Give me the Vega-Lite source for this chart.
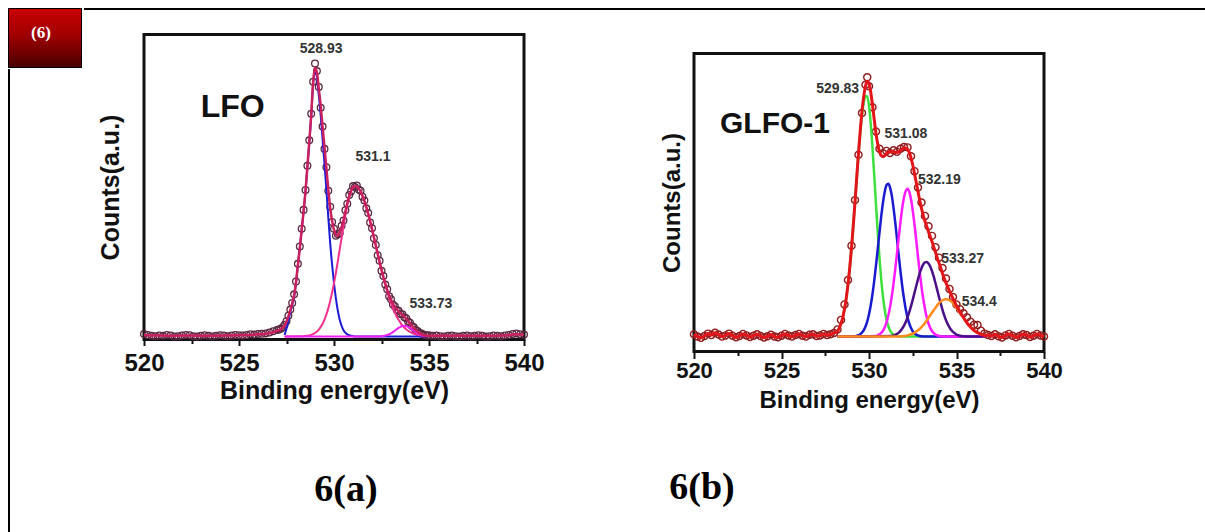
{
"$schema": "https://vega.github.io/schema/vega-lite/v6.json",
"padding": {"left": 8, "top": 8, "right": 0, "bottom": 0},
"background": "white",
"datasets": {
"one": [{"t": "(6)"}],
"aexp": [
{"E":520.0,"c":1.8},{"E":520.2,"c":1.5},{"E":520.4,"c":1.2},{"E":520.6,"c":1.1},{"E":520.8,"c":1.3},{"E":521.0,"c":1.2},{"E":521.2,"c":1.5},{"E":521.4,"c":1.3},{"E":521.6,"c":1.0},{"E":521.8,"c":1.1},
{"E":522.0,"c":1.3},{"E":522.2,"c":1.5},{"E":522.4,"c":1.4},{"E":522.6,"c":1.1},{"E":522.8,"c":1.0},{"E":523.0,"c":1.2},{"E":523.2,"c":1.4},{"E":523.4,"c":1.2},{"E":523.6,"c":1.0},{"E":523.8,"c":1.2},
{"E":524.0,"c":1.4},{"E":524.2,"c":1.3},{"E":524.4,"c":1.1},{"E":524.6,"c":1.3},{"E":524.8,"c":1.5},{"E":525.0,"c":1.4},{"E":525.2,"c":1.3},{"E":525.4,"c":1.5},{"E":525.6,"c":1.7},{"E":525.8,"c":1.6},
{"E":526.0,"c":1.8},{"E":526.2,"c":1.9},{"E":526.4,"c":2.0},{"E":526.6,"c":2.3},{"E":526.8,"c":2.7},{"E":527.0,"c":3.1},
{"E":527.1,"c":3.3},{"E":527.2,"c":3.5},{"E":527.3,"c":4.0},{"E":527.4,"c":4.8},{"E":527.5,"c":6.0},{"E":527.6,"c":7.8},{"E":527.7,"c":9.8},{"E":527.8,"c":12.0},{"E":527.9,"c":14.8},
{"E":528.0,"c":19.0},{"E":528.1,"c":24.8},{"E":528.2,"c":30.5},{"E":528.3,"c":36.3},{"E":528.4,"c":42.5},{"E":528.5,"c":49.0},{"E":528.6,"c":57.0},{"E":528.7,"c":65.3},{"E":528.8,"c":74.0},{"E":528.9,"c":84.5},
{"E":529.0,"c":90.5},{"E":529.1,"c":88.0},{"E":529.2,"c":82.8},{"E":529.3,"c":76.0},{"E":529.4,"c":69.8},{"E":529.5,"c":62.5},{"E":529.6,"c":56.5},{"E":529.7,"c":48.8},{"E":529.8,"c":43.5},{"E":529.9,"c":38.5},
{"E":530.0,"c":36.3},{"E":530.1,"c":34.0},{"E":530.2,"c":34.5},{"E":530.3,"c":34.8},{"E":530.4,"c":37.3},{"E":530.5,"c":39.0},{"E":530.6,"c":42.4},{"E":530.7,"c":44.5},{"E":530.8,"c":47.4},{"E":530.9,"c":48.5},
{"E":531.0,"c":50.3},{"E":531.1,"c":50.0},{"E":531.2,"c":50.5},{"E":531.3,"c":49.2},{"E":531.4,"c":48.8},{"E":531.5,"c":46.8},{"E":531.6,"c":45.6},{"E":531.7,"c":43.0},{"E":531.8,"c":41.5},{"E":531.9,"c":38.4},
{"E":532.0,"c":36.5},{"E":532.1,"c":33.2},{"E":532.2,"c":31.0},{"E":532.3,"c":27.6},{"E":532.4,"c":25.8},{"E":532.5,"c":22.5},{"E":532.6,"c":20.8},{"E":532.7,"c":18.0},{"E":532.8,"c":16.5},{"E":532.9,"c":14.2},
{"E":533.0,"c":13.2},{"E":533.1,"c":11.5},{"E":533.2,"c":10.9},{"E":533.3,"c":9.7},{"E":533.4,"c":9.4},{"E":533.5,"c":8.4},{"E":533.6,"c":8.3},{"E":533.7,"c":7.3},{"E":533.8,"c":7.0},{"E":533.9,"c":5.9},
{"E":534.0,"c":5.5},{"E":534.1,"c":4.4},{"E":534.2,"c":4.0},{"E":534.3,"c":3.1},{"E":534.4,"c":2.8},{"E":534.5,"c":2.2},{"E":534.6,"c":2.0},{"E":534.7,"c":1.6},{"E":534.8,"c":1.5},{"E":534.9,"c":1.3},{"E":535.0,"c":1.4},
{"E":535.2,"c":1.2},{"E":535.4,"c":1.3},{"E":535.6,"c":1.1},{"E":535.8,"c":1.0},{"E":536.0,"c":1.2},{"E":536.2,"c":1.3},{"E":536.4,"c":1.1},{"E":536.6,"c":1.0},{"E":536.8,"c":1.2},{"E":537.0,"c":1.3},
{"E":537.2,"c":1.1},{"E":537.4,"c":1.2},{"E":537.6,"c":1.4},{"E":537.8,"c":1.2},{"E":538.0,"c":1.0},{"E":538.2,"c":1.1},{"E":538.4,"c":1.3},{"E":538.6,"c":1.2},{"E":538.8,"c":1.1},{"E":539.0,"c":1.3},
{"E":539.2,"c":1.5},{"E":539.4,"c":1.8},{"E":539.6,"c":2.0},{"E":539.8,"c":1.7},{"E":540.0,"c":1.6}
],
"afit": [
{"E":520.0,"c":1.5},{"E":520.5,"c":1.3},{"E":521.0,"c":1.3},{"E":521.5,"c":1.2},{"E":522.0,"c":1.3},{"E":522.5,"c":1.3},{"E":523.0,"c":1.2},{"E":523.5,"c":1.2},{"E":524.0,"c":1.3},{"E":524.5,"c":1.3},
{"E":525.0,"c":1.4},{"E":525.5,"c":1.5},{"E":526.0,"c":1.7},{"E":526.4,"c":1.9},{"E":526.8,"c":2.4},{"E":527.0,"c":2.8},{"E":527.2,"c":3.4},{"E":527.3,"c":3.9},
{"E":527.4,"c":4.5},{"E":527.5,"c":5.8},{"E":527.6,"c":7.6},{"E":527.7,"c":9.6},{"E":527.8,"c":11.9},{"E":527.9,"c":14.5},
{"E":528.0,"c":18.8},{"E":528.1,"c":24.5},{"E":528.2,"c":30.0},{"E":528.3,"c":36.0},{"E":528.4,"c":42.1},{"E":528.5,"c":48.7},{"E":528.6,"c":56.7},{"E":528.7,"c":64.9},{"E":528.8,"c":73.5},{"E":528.9,"c":84.3},
{"E":529.0,"c":89.1},{"E":529.1,"c":87.6},{"E":529.2,"c":82.2},{"E":529.3,"c":76.6},{"E":529.4,"c":69.7},{"E":529.5,"c":63.0},{"E":529.6,"c":56.2},{"E":529.7,"c":49.2},{"E":529.8,"c":43.1},{"E":529.9,"c":38.9},
{"E":530.0,"c":36.0},{"E":530.1,"c":34.4},{"E":530.2,"c":34.1},{"E":530.3,"c":35.0},{"E":530.4,"c":36.9},{"E":530.5,"c":39.2},{"E":530.6,"c":42.0},{"E":530.7,"c":44.7},{"E":530.8,"c":47.0},{"E":530.9,"c":48.8},
{"E":531.0,"c":50.0},{"E":531.1,"c":50.3},{"E":531.2,"c":50.1},{"E":531.3,"c":49.5},{"E":531.4,"c":48.5},{"E":531.5,"c":47.1},{"E":531.6,"c":45.4},{"E":531.7,"c":43.4},{"E":531.8,"c":41.2},{"E":531.9,"c":38.8},
{"E":532.0,"c":36.2},{"E":532.1,"c":33.5},{"E":532.2,"c":30.8},{"E":532.3,"c":28.1},{"E":532.4,"c":25.4},{"E":532.5,"c":22.9},{"E":532.6,"c":20.5},{"E":532.7,"c":18.3},{"E":532.8,"c":16.3},{"E":532.9,"c":14.5},
{"E":533.0,"c":13.0},{"E":533.1,"c":11.7},{"E":533.2,"c":10.7},{"E":533.3,"c":9.9},{"E":533.4,"c":9.2},{"E":533.5,"c":8.6},{"E":533.6,"c":8.1},{"E":533.7,"c":7.5},{"E":533.8,"c":6.8},{"E":533.9,"c":6.1},
{"E":534.0,"c":5.3},{"E":534.1,"c":4.5},{"E":534.2,"c":3.8},{"E":534.3,"c":3.1},{"E":534.4,"c":2.6},{"E":534.5,"c":2.1},{"E":534.6,"c":1.8},{"E":534.7,"c":1.5},{"E":534.8,"c":1.3},{"E":534.9,"c":1.2},
{"E":535.5,"c":1.2},{"E":536.0,"c":1.2},{"E":537.0,"c":1.2},{"E":538.0,"c":1.2},{"E":539.0,"c":1.3},{"E":539.5,"c":1.7},{"E":540.0,"c":1.6}
],
"acomp": [
{"pa":"p1","E":527.4,"c":1.5},{"pa":"p1","E":527.5,"c":3.6},{"pa":"p1","E":527.6,"c":6.2},{"pa":"p1","E":527.7,"c":8.9},{"pa":"p1","E":527.8,"c":11.3},{"pa":"p1","E":527.9,"c":14.0},
{"pa":"p1","E":528.0,"c":18.5},{"pa":"p1","E":528.1,"c":24.5},{"pa":"p1","E":528.2,"c":30.0},{"pa":"p1","E":528.3,"c":36.0},{"pa":"p1","E":528.4,"c":42.0},{"pa":"p1","E":528.5,"c":48.5},{"pa":"p1","E":528.6,"c":56.5},{"pa":"p1","E":528.7,"c":64.5},{"pa":"p1","E":528.8,"c":73.0},{"pa":"p1","E":528.9,"c":83.5},
{"pa":"p1","E":529.0,"c":88.0},{"pa":"p1","E":529.1,"c":86.0},{"pa":"p1","E":529.2,"c":80.0},{"pa":"p1","E":529.3,"c":73.5},{"pa":"p1","E":529.4,"c":65.5},{"pa":"p1","E":529.5,"c":57.5},{"pa":"p1","E":529.6,"c":49.0},{"pa":"p1","E":529.7,"c":40.0},{"pa":"p1","E":529.8,"c":31.5},{"pa":"p1","E":529.9,"c":24.5},
{"pa":"p1","E":530.0,"c":18.5},{"pa":"p1","E":530.1,"c":13.5},{"pa":"p1","E":530.2,"c":9.5},{"pa":"p1","E":530.3,"c":6.5},{"pa":"p1","E":530.4,"c":4.5},{"pa":"p1","E":530.5,"c":3.0},{"pa":"p1","E":530.6,"c":2.2},{"pa":"p1","E":530.7,"c":1.7},{"pa":"p1","E":530.8,"c":1.4},{"pa":"p1","E":530.9,"c":1.2},
{"pa":"p1","E":531.0,"c":1.1},{"pa":"p1","E":531.2,"c":1.0},{"pa":"p1","E":534.9,"c":1.0},
{"pa":"p2","E":527.4,"c":1.0},{"pa":"p2","E":528.4,"c":1.05},{"pa":"p2","E":528.6,"c":1.23},{"pa":"p2","E":528.8,"c":1.53},{"pa":"p2","E":529.0,"c":2.12},{"pa":"p2","E":529.2,"c":3.24},{"pa":"p2","E":529.4,"c":5.16},{"pa":"p2","E":529.5,"c":6.52},{"pa":"p2","E":529.6,"c":8.18},{"pa":"p2","E":529.7,"c":10.2},
{"pa":"p2","E":529.8,"c":12.6},{"pa":"p2","E":529.9,"c":15.4},{"pa":"p2","E":530.0,"c":18.5},{"pa":"p2","E":530.1,"c":21.9},{"pa":"p2","E":530.2,"c":25.6},{"pa":"p2","E":530.3,"c":29.5},{"pa":"p2","E":530.4,"c":33.4},{"pa":"p2","E":530.5,"c":37.2},{"pa":"p2","E":530.6,"c":40.8},{"pa":"p2","E":530.7,"c":44.0},
{"pa":"p2","E":530.8,"c":46.6},{"pa":"p2","E":530.9,"c":48.6},{"pa":"p2","E":531.0,"c":49.9},{"pa":"p2","E":531.1,"c":50.3},{"pa":"p2","E":531.2,"c":50.1},{"pa":"p2","E":531.3,"c":49.5},{"pa":"p2","E":531.4,"c":48.5},{"pa":"p2","E":531.5,"c":47.1},{"pa":"p2","E":531.6,"c":45.4},{"pa":"p2","E":531.7,"c":43.4},
{"pa":"p2","E":531.8,"c":41.2},{"pa":"p2","E":531.9,"c":38.8},{"pa":"p2","E":532.0,"c":36.2},{"pa":"p2","E":532.1,"c":33.5},{"pa":"p2","E":532.2,"c":30.8},{"pa":"p2","E":532.3,"c":28.1},{"pa":"p2","E":532.4,"c":25.4},{"pa":"p2","E":532.5,"c":22.8},{"pa":"p2","E":532.6,"c":20.3},{"pa":"p2","E":532.7,"c":18.0},
{"pa":"p2","E":532.8,"c":15.8},{"pa":"p2","E":532.9,"c":13.8},{"pa":"p2","E":533.0,"c":12.0},{"pa":"p2","E":533.1,"c":10.3},{"pa":"p2","E":533.2,"c":8.85},{"pa":"p2","E":533.3,"c":7.56},{"pa":"p2","E":533.4,"c":6.44},{"pa":"p2","E":533.5,"c":5.47},{"pa":"p2","E":533.6,"c":4.65},{"pa":"p2","E":533.7,"c":3.95},
{"pa":"p2","E":533.8,"c":3.37},{"pa":"p2","E":533.9,"c":2.88},{"pa":"p2","E":534.0,"c":2.48},{"pa":"p2","E":534.2,"c":1.9},{"pa":"p2","E":534.4,"c":1.53},{"pa":"p2","E":534.6,"c":1.3},{"pa":"p2","E":534.8,"c":1.16},{"pa":"p2","E":534.9,"c":1.12},
{"pa":"p3","E":527.4,"c":1.0},{"pa":"p3","E":532.4,"c":1.0},{"pa":"p3","E":532.5,"c":1.08},{"pa":"p3","E":532.6,"c":1.17},{"pa":"p3","E":532.7,"c":1.3},{"pa":"p3","E":532.8,"c":1.47},{"pa":"p3","E":532.9,"c":1.72},{"pa":"p3","E":533.0,"c":2.04},{"pa":"p3","E":533.1,"c":2.44},{"pa":"p3","E":533.2,"c":2.89},
{"pa":"p3","E":533.3,"c":3.36},{"pa":"p3","E":533.4,"c":3.8},{"pa":"p3","E":533.5,"c":4.17},{"pa":"p3","E":533.6,"c":4.41},{"pa":"p3","E":533.7,"c":4.5},{"pa":"p3","E":533.8,"c":4.41},{"pa":"p3","E":533.9,"c":4.17},{"pa":"p3","E":534.0,"c":3.8},{"pa":"p3","E":534.1,"c":3.36},{"pa":"p3","E":534.2,"c":2.89},
{"pa":"p3","E":534.3,"c":2.44},{"pa":"p3","E":534.4,"c":2.04},{"pa":"p3","E":534.5,"c":1.72},{"pa":"p3","E":534.6,"c":1.47},{"pa":"p3","E":534.7,"c":1.3},{"pa":"p3","E":534.8,"c":1.17},{"pa":"p3","E":534.9,"c":1.1}
],
"alab": [{"E":529.32,"c":95.1,"t":"528.93"},{"E":532.05,"c":60.0,"t":"531.1"},{"E":535.1,"c":11.8,"t":"533.73"}],
"aname": [{"E":524.67,"c":76.2,"t":"LFO"}],
"bexp": [
{"E":520.0,"c":5.8},{"E":520.2,"c":5.0},{"E":520.4,"c":4.6},{"E":520.6,"c":5.2},{"E":520.8,"c":6.0},{"E":521.0,"c":5.5},{"E":521.2,"c":6.3},{"E":521.4,"c":5.7},{"E":521.6,"c":5.0},{"E":521.8,"c":5.4},
{"E":522.0,"c":6.0},{"E":522.2,"c":5.3},{"E":522.4,"c":4.8},{"E":522.6,"c":5.2},{"E":522.8,"c":5.9},{"E":523.0,"c":5.4},{"E":523.2,"c":4.9},{"E":523.4,"c":5.3},{"E":523.6,"c":5.8},{"E":523.8,"c":5.2},
{"E":524.0,"c":4.7},{"E":524.2,"c":5.1},{"E":524.4,"c":5.6},{"E":524.6,"c":5.0},{"E":524.8,"c":4.8},{"E":525.0,"c":5.3},{"E":525.2,"c":5.9},{"E":525.4,"c":5.4},{"E":525.6,"c":5.0},{"E":525.8,"c":5.5},
{"E":526.0,"c":5.9},{"E":526.2,"c":5.3},{"E":526.4,"c":5.0},{"E":526.6,"c":5.6},{"E":526.8,"c":5.8},{"E":527.0,"c":5.2},{"E":527.2,"c":5.4},{"E":527.4,"c":5.9},{"E":527.6,"c":5.5},{"E":527.8,"c":5.8},
{"E":528.0,"c":6.2},{"E":528.2,"c":7.4},{"E":528.4,"c":10.6},{"E":528.6,"c":15.8},{"E":528.8,"c":24.0},{"E":529.0,"c":35.5},{"E":529.2,"c":50.8},{"E":529.4,"c":66.0},{"E":529.6,"c":80.0},{"E":529.8,"c":89.5},
{"E":529.9,"c":92.0},{"E":530.0,"c":89.0},{"E":530.2,"c":82.0},{"E":530.4,"c":73.8},{"E":530.6,"c":68.0},{"E":530.8,"c":66.5},{"E":531.0,"c":67.3},{"E":531.2,"c":66.6},{"E":531.4,"c":67.5},{"E":531.6,"c":67.0},
{"E":531.8,"c":68.0},{"E":532.0,"c":68.6},{"E":532.2,"c":68.5},{"E":532.4,"c":65.5},{"E":532.6,"c":60.5},{"E":532.8,"c":55.0},{"E":533.0,"c":50.0},{"E":533.2,"c":45.5},{"E":533.4,"c":42.0},{"E":533.6,"c":38.8},
{"E":533.8,"c":35.0},{"E":534.0,"c":31.5},{"E":534.2,"c":28.0},{"E":534.4,"c":24.5},{"E":534.6,"c":21.0},{"E":534.8,"c":18.3},{"E":535.0,"c":15.8},{"E":535.2,"c":14.2},{"E":535.4,"c":12.8},{"E":535.6,"c":11.5},
{"E":535.8,"c":10.0},{"E":536.0,"c":9.0},{"E":536.2,"c":8.9},{"E":536.4,"c":7.0},{"E":536.6,"c":6.0},{"E":536.8,"c":5.5},{"E":537.0,"c":5.2},{"E":537.2,"c":5.8},{"E":537.4,"c":5.1},{"E":537.6,"c":4.7},
{"E":537.8,"c":5.4},{"E":538.0,"c":5.9},{"E":538.2,"c":5.3},{"E":538.4,"c":4.8},{"E":538.6,"c":5.2},{"E":538.8,"c":5.8},{"E":539.0,"c":5.5},{"E":539.2,"c":4.9},{"E":539.4,"c":5.3},{"E":539.6,"c":5.9},{"E":539.8,"c":5.4},{"E":540.0,"c":5.0}
],
"bfit": [
{"E":520.0,"c":5.8},{"E":520.2,"c":5.0},{"E":520.4,"c":4.6},{"E":520.6,"c":5.2},{"E":520.8,"c":6.0},{"E":521.0,"c":5.5},{"E":521.2,"c":6.3},{"E":521.4,"c":5.7},{"E":521.6,"c":5.0},{"E":521.8,"c":5.4},
{"E":522.0,"c":6.0},{"E":522.2,"c":5.3},{"E":522.4,"c":4.8},{"E":522.6,"c":5.2},{"E":522.8,"c":5.9},{"E":523.0,"c":5.4},{"E":523.2,"c":4.9},{"E":523.4,"c":5.3},{"E":523.6,"c":5.8},{"E":523.8,"c":5.2},
{"E":524.0,"c":4.7},{"E":524.2,"c":5.1},{"E":524.4,"c":5.6},{"E":524.6,"c":5.0},{"E":524.8,"c":4.8},{"E":525.0,"c":5.3},{"E":525.2,"c":5.9},{"E":525.4,"c":5.4},{"E":525.6,"c":5.0},{"E":525.8,"c":5.5},
{"E":526.0,"c":5.9},{"E":526.2,"c":5.3},{"E":526.4,"c":5.0},{"E":526.6,"c":5.6},{"E":526.8,"c":5.8},{"E":527.0,"c":5.2},{"E":527.2,"c":5.4},{"E":527.4,"c":5.9},{"E":527.6,"c":5.5},{"E":527.8,"c":5.8},{"E":528.0,"c":6.2},
{"E":528.2,"c":6.8},{"E":528.3,"c":7.9},{"E":528.4,"c":9.4},{"E":528.5,"c":11.4},{"E":528.6,"c":14.3},{"E":528.7,"c":17.9},{"E":528.8,"c":22.5},{"E":528.9,"c":28.1},{"E":529.0,"c":34.7},{"E":529.1,"c":42.2},
{"E":529.2,"c":50.1},{"E":529.3,"c":58.5},{"E":529.4,"c":66.7},{"E":529.5,"c":74.1},{"E":529.6,"c":80.7},{"E":529.7,"c":85.7},{"E":529.8,"c":89.1},{"E":529.9,"c":90.7},{"E":530.0,"c":89.9},{"E":530.1,"c":87.0},
{"E":530.2,"c":82.7},{"E":530.3,"c":77.8},{"E":530.4,"c":73.1},{"E":530.5,"c":69.6},{"E":530.6,"c":67.1},{"E":530.7,"c":65.8},{"E":530.8,"c":65.4},{"E":530.9,"c":65.7},{"E":531.0,"c":66.4},{"E":531.1,"c":66.9},
{"E":531.2,"c":67.0},{"E":531.3,"c":67.0},{"E":531.4,"c":67.1},{"E":531.5,"c":66.9},{"E":531.6,"c":66.8},{"E":531.7,"c":67.0},{"E":531.8,"c":67.4},{"E":531.9,"c":68.0},{"E":532.0,"c":68.3},{"E":532.1,"c":68.3},
{"E":532.2,"c":67.9},{"E":532.3,"c":66.8},{"E":532.4,"c":65.0},{"E":532.5,"c":62.6},{"E":532.6,"c":59.7},{"E":532.7,"c":56.7},{"E":532.8,"c":53.6},{"E":532.9,"c":50.7},{"E":533.0,"c":48.0},{"E":533.1,"c":45.7},
{"E":533.2,"c":43.7},{"E":533.3,"c":42.0},{"E":533.4,"c":40.2},{"E":533.5,"c":38.6},{"E":533.6,"c":36.9},{"E":533.7,"c":35.1},{"E":533.8,"c":33.3},{"E":533.9,"c":31.5},{"E":534.0,"c":29.7},{"E":534.1,"c":28.0},
{"E":534.2,"c":26.2},{"E":534.3,"c":24.6},{"E":534.4,"c":23.0},{"E":534.5,"c":21.7},{"E":534.6,"c":20.3},{"E":534.7,"c":19.0},{"E":534.8,"c":17.8},{"E":534.9,"c":16.6},{"E":535.0,"c":15.4},{"E":535.1,"c":14.4},
{"E":535.2,"c":13.3},{"E":535.3,"c":12.4},{"E":535.4,"c":11.4},{"E":535.5,"c":10.5},{"E":535.6,"c":9.6},{"E":535.7,"c":8.9},{"E":535.8,"c":8.2},{"E":535.9,"c":7.6},{"E":536.0,"c":7.1},{"E":536.1,"c":6.7},
{"E":536.2,"c":6.3},{"E":536.3,"c":6.1},{"E":536.4,"c":5.8},{"E":536.5,"c":5.6},{"E":536.6,"c":5.4},
{"E":536.8,"c":5.5},{"E":537.0,"c":5.2},{"E":537.2,"c":5.8},{"E":537.4,"c":5.1},{"E":537.6,"c":4.7},{"E":537.8,"c":5.4},{"E":538.0,"c":5.9},{"E":538.2,"c":5.3},{"E":538.4,"c":4.8},{"E":538.6,"c":5.2},
{"E":538.8,"c":5.8},{"E":539.0,"c":5.5},{"E":539.2,"c":4.9},{"E":539.4,"c":5.3},{"E":539.6,"c":5.9},{"E":539.8,"c":5.4},{"E":540.0,"c":5.0}
],
"bcomp": [
{"pb":"g","E":528.2,"c":6.8},{"pb":"g","E":528.3,"c":7.9},{"pb":"g","E":528.4,"c":9.4},{"pb":"g","E":528.5,"c":11.4},{"pb":"g","E":528.6,"c":14.3},{"pb":"g","E":528.7,"c":17.9},{"pb":"g","E":528.8,"c":22.5},{"pb":"g","E":528.9,"c":28.1},
{"pb":"g","E":529.0,"c":34.7},{"pb":"g","E":529.1,"c":42.1},{"pb":"g","E":529.2,"c":50.0},{"pb":"g","E":529.3,"c":58.2},{"pb":"g","E":529.4,"c":66.2},{"pb":"g","E":529.5,"c":73.3},{"pb":"g","E":529.6,"c":79.3},{"pb":"g","E":529.7,"c":83.5},{"pb":"g","E":529.8,"c":85.7},{"pb":"g","E":529.9,"c":85.6},
{"pb":"g","E":530.0,"c":82.4},{"pb":"g","E":530.1,"c":76.5},{"pb":"g","E":530.2,"c":68.4},{"pb":"g","E":530.3,"c":59.0},{"pb":"g","E":530.4,"c":49.2},{"pb":"g","E":530.5,"c":39.8},{"pb":"g","E":530.6,"c":31.3},{"pb":"g","E":530.7,"c":24.1},{"pb":"g","E":530.8,"c":18.3},{"pb":"g","E":530.9,"c":13.9},
{"pb":"g","E":531.0,"c":10.75},{"pb":"g","E":531.1,"c":8.56},{"pb":"g","E":531.2,"c":7.1},{"pb":"g","E":531.3,"c":6.2},{"pb":"g","E":531.4,"c":5.66},{"pb":"g","E":531.5,"c":5.35},{"pb":"g","E":531.6,"c":5.17},{"pb":"g","E":531.8,"c":5.0},{"pb":"g","E":536.6,"c":5.0},
{"pb":"b","E":528.2,"c":5.0},{"pb":"b","E":529.2,"c":5.1},{"pb":"b","E":529.3,"c":5.27},{"pb":"b","E":529.4,"c":5.48},{"pb":"b","E":529.5,"c":5.83},{"pb":"b","E":529.6,"c":6.37},{"pb":"b","E":529.7,"c":7.2},{"pb":"b","E":529.8,"c":8.4},{"pb":"b","E":529.9,"c":10.1},
{"pb":"b","E":530.0,"c":12.5},{"pb":"b","E":530.1,"c":15.5},{"pb":"b","E":530.2,"c":19.3},{"pb":"b","E":530.3,"c":23.8},{"pb":"b","E":530.4,"c":28.9},{"pb":"b","E":530.5,"c":34.4},{"pb":"b","E":530.6,"c":40.0},{"pb":"b","E":530.7,"c":45.4},{"pb":"b","E":530.8,"c":50.1},{"pb":"b","E":530.9,"c":53.6},
{"pb":"b","E":531.0,"c":55.8},{"pb":"b","E":531.1,"c":56.3},{"pb":"b","E":531.2,"c":55.1},{"pb":"b","E":531.3,"c":52.4},{"pb":"b","E":531.4,"c":48.3},{"pb":"b","E":531.5,"c":43.3},{"pb":"b","E":531.6,"c":37.8},{"pb":"b","E":531.7,"c":32.2},{"pb":"b","E":531.8,"c":26.8},{"pb":"b","E":531.9,"c":21.9},
{"pb":"b","E":532.0,"c":17.7},{"pb":"b","E":532.1,"c":14.2},{"pb":"b","E":532.2,"c":11.45},{"pb":"b","E":532.3,"c":9.4},{"pb":"b","E":532.4,"c":7.9},{"pb":"b","E":532.5,"c":6.8},{"pb":"b","E":532.6,"c":6.1},{"pb":"b","E":532.7,"c":5.67},{"pb":"b","E":532.8,"c":5.4},{"pb":"b","E":532.9,"c":5.2},
{"pb":"b","E":533.0,"c":5.1},{"pb":"b","E":533.2,"c":5.0},{"pb":"b","E":536.6,"c":5.0},
{"pb":"m","E":528.2,"c":5.0},{"pb":"m","E":530.4,"c":5.2},{"pb":"m","E":530.5,"c":5.44},{"pb":"m","E":530.6,"c":5.76},{"pb":"m","E":530.7,"c":6.26},{"pb":"m","E":530.8,"c":7.0},{"pb":"m","E":530.9,"c":8.17},
{"pb":"m","E":531.0,"c":9.8},{"pb":"m","E":531.1,"c":12.0},{"pb":"m","E":531.2,"c":14.8},{"pb":"m","E":531.3,"c":18.4},{"pb":"m","E":531.4,"c":22.7},{"pb":"m","E":531.5,"c":27.6},{"pb":"m","E":531.6,"c":32.9},{"pb":"m","E":531.7,"c":38.4},{"pb":"m","E":531.8,"c":43.6},{"pb":"m","E":531.9,"c":48.2},
{"pb":"m","E":532.0,"c":51.7},{"pb":"m","E":532.1,"c":53.9},{"pb":"m","E":532.2,"c":54.6},{"pb":"m","E":532.3,"c":53.6},{"pb":"m","E":532.4,"c":51.1},{"pb":"m","E":532.5,"c":47.3},{"pb":"m","E":532.6,"c":42.6},{"pb":"m","E":532.7,"c":37.3},{"pb":"m","E":532.8,"c":31.8},{"pb":"m","E":532.9,"c":26.6},
{"pb":"m","E":533.0,"c":21.8},{"pb":"m","E":533.1,"c":17.6},{"pb":"m","E":533.2,"c":14.2},{"pb":"m","E":533.3,"c":11.5},{"pb":"m","E":533.4,"c":9.4},{"pb":"m","E":533.5,"c":7.9},{"pb":"m","E":533.6,"c":6.86},{"pb":"m","E":533.7,"c":6.14},{"pb":"m","E":533.8,"c":5.68},{"pb":"m","E":533.9,"c":5.4},
{"pb":"m","E":534.0,"c":5.2},{"pb":"m","E":534.2,"c":5.05},{"pb":"m","E":536.6,"c":5.0},
{"pb":"p","E":528.2,"c":5.0},{"pb":"p","E":531.2,"c":5.2},{"pb":"p","E":531.4,"c":5.4},{"pb":"p","E":531.5,"c":5.6},{"pb":"p","E":531.6,"c":5.9},{"pb":"p","E":531.7,"c":6.35},{"pb":"p","E":531.8,"c":6.94},{"pb":"p","E":531.9,"c":7.7},
{"pb":"p","E":532.0,"c":8.7},{"pb":"p","E":532.1,"c":9.9},{"pb":"p","E":532.2,"c":11.45},{"pb":"p","E":532.3,"c":13.2},{"pb":"p","E":532.4,"c":15.2},{"pb":"p","E":532.5,"c":17.4},{"pb":"p","E":532.6,"c":19.7},{"pb":"p","E":532.7,"c":22.0},{"pb":"p","E":532.8,"c":24.25},{"pb":"p","E":532.9,"c":26.3},
{"pb":"p","E":533.0,"c":27.9},{"pb":"p","E":533.1,"c":29.2},{"pb":"p","E":533.2,"c":29.9},{"pb":"p","E":533.3,"c":30.0},{"pb":"p","E":533.4,"c":29.5},{"pb":"p","E":533.5,"c":28.5},{"pb":"p","E":533.6,"c":27.0},{"pb":"p","E":533.7,"c":25.1},{"pb":"p","E":533.8,"c":22.9},{"pb":"p","E":533.9,"c":20.6},
{"pb":"p","E":534.0,"c":18.3},{"pb":"p","E":534.1,"c":16.1},{"pb":"p","E":534.2,"c":14.0},{"pb":"p","E":534.3,"c":12.1},{"pb":"p","E":534.4,"c":10.5},{"pb":"p","E":534.5,"c":9.2},{"pb":"p","E":534.6,"c":8.1},{"pb":"p","E":534.7,"c":7.2},{"pb":"p","E":534.8,"c":6.6},{"pb":"p","E":534.9,"c":6.1},
{"pb":"p","E":535.0,"c":5.7},{"pb":"p","E":535.1,"c":5.5},{"pb":"p","E":535.2,"c":5.3},{"pb":"p","E":535.3,"c":5.2},{"pb":"p","E":535.5,"c":5.05},{"pb":"p","E":536.6,"c":5.0},
{"pb":"o","E":528.2,"c":5.0},{"pb":"o","E":531.6,"c":5.0},{"pb":"o","E":532.0,"c":5.2},{"pb":"o","E":532.2,"c":5.4},{"pb":"o","E":532.4,"c":5.8},{"pb":"o","E":532.6,"c":6.3},{"pb":"o","E":532.8,"c":7.1},{"pb":"o","E":533.0,"c":8.2},{"pb":"o","E":533.2,"c":9.6},
{"pb":"o","E":533.4,"c":11.3},{"pb":"o","E":533.6,"c":13.0},{"pb":"o","E":533.8,"c":14.7},{"pb":"o","E":534.0,"c":16.2},{"pb":"o","E":534.2,"c":17.2},{"pb":"o","E":534.4,"c":17.5},{"pb":"o","E":534.6,"c":17.2},{"pb":"o","E":534.8,"c":16.2},{"pb":"o","E":535.0,"c":14.7},
{"pb":"o","E":535.2,"c":13.0},{"pb":"o","E":535.4,"c":11.3},{"pb":"o","E":535.6,"c":9.6},{"pb":"o","E":535.8,"c":8.2},{"pb":"o","E":536.0,"c":7.1},{"pb":"o","E":536.2,"c":6.3},{"pb":"o","E":536.4,"c":5.8},{"pb":"o","E":536.6,"c":5.4}
],
"blab": [{"E":528.21,"c":88.2,"t":"529.83"},{"E":532.11,"c":73.0,"t":"531.08"},{"E":534.02,"c":57.4,"t":"532.19"},{"E":535.35,"c":31.1,"t":"533.27"},{"E":536.3,"c":16.5,"t":"534.4"}],
"bname": [{"E":524.63,"c":76.4,"t":"GLFO-1"}]
},
"hconcat": [
 {
  "vconcat": [
   {
    "width": 72, "height": 58,
    "data": {"name": "one"},
    "view": {"stroke": "black", "strokeWidth": 2},
    "encoding": {
     "x": {"field": "t", "type": "nominal", "axis": null, "scale": {"paddingInner": 0, "paddingOuter": 0}},
     "y": {"field": "t", "type": "nominal", "axis": null, "scale": {"paddingInner": 0, "paddingOuter": 0}}
    },
    "layer": [
     {"mark": {"type": "rect", "color": {"gradient": "linear", "x1": 0, "y1": 0, "x2": 0, "y2": 1, "stops": [{"offset": 0, "color": "#c80000"}, {"offset": 0.45, "color": "#a00000"}, {"offset": 1, "color": "#4a0000"}]}}},
     {"mark": {"type": "text", "color": "white", "font": "Liberation Serif", "fontWeight": "bold", "fontSize": 17, "dx": -4, "dy": -5}, "encoding": {"text": {"field": "t"}}}
    ]
   },
   {
    "width": 72, "height": 465,
    "data": {"name": "one"},
    "view": {"stroke": null},
    "mark": {"type": "rule", "color": "black", "strokeWidth": 2},
    "encoding": {"x": {"datum": 0, "type": "quantitative", "scale": {"domain": [0, 1]}, "axis": null}}
   }
  ],
  "spacing": 0
 },
 {
  "vconcat": [
   {
    "width": 1062, "height": 1,
    "data": {"name": "one"},
    "view": {"stroke": null},
    "mark": {"type": "rule", "color": "black", "strokeWidth": 2},
    "encoding": {
     "x": {"datum": 0, "type": "quantitative", "scale": {"domain": [0, 1], "range": [-60, 1062]}, "axis": null},
     "x2": {"datum": 1},
     "y": {"datum": 1, "type": "quantitative", "scale": {"domain": [0, 1]}, "axis": null}
    }
   },
   {
    "hconcat": [
     {
      "title": {"text": " ", "orient": "left", "fontSize": 2, "offset": 6},
      "vconcat": [
       {
        "width": 380, "height": 305,
        "view": {"stroke": "#111", "strokeWidth": 3},
        "title": {"text": "6(a)", "orient": "bottom", "frame": "group", "anchor": "middle", "dx": 12, "offset": 67, "font": "Liberation Serif", "fontSize": 38, "fontWeight": "bold", "color": "black"},
        "encoding": {
         "x": {"field": "E", "type": "quantitative", "scale": {"domain": [520, 540], "nice": false, "zero": false},
          "axis": {"title": "Binding energy(eV)", "values": [520, 522.5, 525, 527.5, 530, 532.5, 535, 537.5, 540], "labelExpr": "datum.value % 5 === 0 ? format(datum.value, 'd') : ''", "labelFlush": false, "labelOverlap": false, "domain": false, "grid": false, "ticks": true, "tickColor": "#111", "tickWidth": 2, "tickSize": {"condition": {"test": "datum.value % 5 !== 0", "value": 4}, "value": 6}, "labelFontSize": 24, "labelFontWeight": "bold", "labelPadding": 6, "titleFontSize": 25, "titleFontWeight": "bold", "titlePadding": 3}},
         "y": {"field": "c", "type": "quantitative", "scale": {"domain": [0, 100], "nice": false, "zero": false},
          "axis": {"title": "Counts(a.u.)", "labels": false, "ticks": false, "domain": false, "grid": false, "titleFontSize": 25, "titleFontWeight": "bold", "titlePadding": 21}}
        },
        "layer": [
         {"data": {"name": "aexp"}, "mark": {"type": "point", "shape": "circle", "filled": false, "size": 45, "strokeWidth": 1.3, "color": "#5a2840", "opacity": 1}},
         {"data": {"name": "acomp"}, "mark": {"type": "line", "interpolate": "monotone", "strokeWidth": 2},
          "encoding": {"color": {"field": "pa", "type": "nominal", "scale": {"domain": ["p1", "p2", "p3"], "range": ["#1c1cd6", "#f0308c", "#f020f0"]}, "legend": null}}},
         {"data": {"name": "afit"}, "mark": {"type": "line", "interpolate": "monotone", "strokeWidth": 2.5, "color": "#cc1f5e"}},
         {"data": {"name": "alab"}, "mark": {"type": "text", "font": "Liberation Sans", "fontWeight": "bold", "fontSize": 14, "color": "#333"}, "encoding": {"text": {"field": "t"}}},
         {"data": {"name": "aname"}, "mark": {"type": "text", "font": "Liberation Sans", "fontWeight": "bold", "fontSize": 32, "color": "#111"}, "encoding": {"text": {"field": "t"}}}
        ]
       }
      ]
     },
     {
      "vconcat": [
       {
        "width": 1, "height": 1,
        "data": {"name": "one"},
        "view": {"stroke": null},
        "mark": {"type": "point", "opacity": 0, "size": 0},
        "encoding": {}
       },
       {
        "width": 350, "height": 298,
        "view": {"stroke": "#111", "strokeWidth": 3},
        "title": {"text": "6(b)", "orient": "bottom", "frame": "group", "anchor": "middle", "dx": -167, "offset": 56, "font": "Liberation Serif", "fontSize": 38, "fontWeight": "bold", "color": "black"},
        "encoding": {
         "x": {"field": "E", "type": "quantitative", "scale": {"domain": [520, 540], "nice": false, "zero": false},
          "axis": {"title": "Binding energy(eV)", "values": [520, 522.5, 525, 527.5, 530, 532.5, 535, 537.5, 540], "labelExpr": "datum.value % 5 === 0 ? format(datum.value, 'd') : ''", "labelFlush": false, "labelOverlap": false, "domain": false, "grid": false, "ticks": true, "tickColor": "#111", "tickWidth": 2, "tickSize": {"condition": {"test": "datum.value % 5 !== 0", "value": 4}, "value": 7}, "labelFontSize": 22, "labelFontWeight": "bold", "labelPadding": 2, "titleFontSize": 24, "titleFontWeight": "bold", "titlePadding": 7}},
         "y": {"field": "c", "type": "quantitative", "scale": {"domain": [0, 100], "nice": false, "zero": false},
          "axis": {"title": "Counts(a.u.)", "labels": false, "ticks": false, "domain": false, "grid": false, "titleFontSize": 24, "titleFontWeight": "bold", "titlePadding": 10}}
        },
        "layer": [
         {"data": {"name": "bexp"}, "mark": {"type": "point", "shape": "circle", "filled": false, "size": 50, "strokeWidth": 1.4, "color": "#8f1d1d", "opacity": 1}},
         {"data": {"name": "bcomp"}, "mark": {"type": "line", "interpolate": "monotone", "strokeWidth": 2.5},
          "encoding": {"color": {"field": "pb", "type": "nominal", "scale": {"domain": ["g", "b", "m", "p", "o"], "range": ["#3ee03e", "#1a1ad0", "#ff1aff", "#4b1088", "#ff8c1a"]}, "legend": null}}},
         {"data": {"name": "bfit"}, "mark": {"type": "line", "interpolate": "monotone", "strokeWidth": 3, "color": "#e3151b"}},
         {"data": {"name": "blab"}, "mark": {"type": "text", "font": "Liberation Sans", "fontWeight": "bold", "fontSize": 14, "color": "#333"}, "encoding": {"text": {"field": "t"}}},
         {"data": {"name": "bname"}, "mark": {"type": "text", "font": "Liberation Sans", "fontWeight": "bold", "fontSize": 30, "color": "#111"}, "encoding": {"text": {"field": "t"}}}
        ]
       }
      ],
      "spacing": 16
     }
    ],
    "spacing": 112,
    "resolve": {"scale": {"color": "independent", "x": "independent", "y": "independent"}}
   }
  ],
  "spacing": 22.5
 }
],
"spacing": 1,
"config": {
 "view": {"stroke": null},
 "font": "Liberation Sans",
 "axis": {"labelFont": "Liberation Sans", "titleFont": "Liberation Sans", "labelColor": "#111", "titleColor": "#111"}
}
}
